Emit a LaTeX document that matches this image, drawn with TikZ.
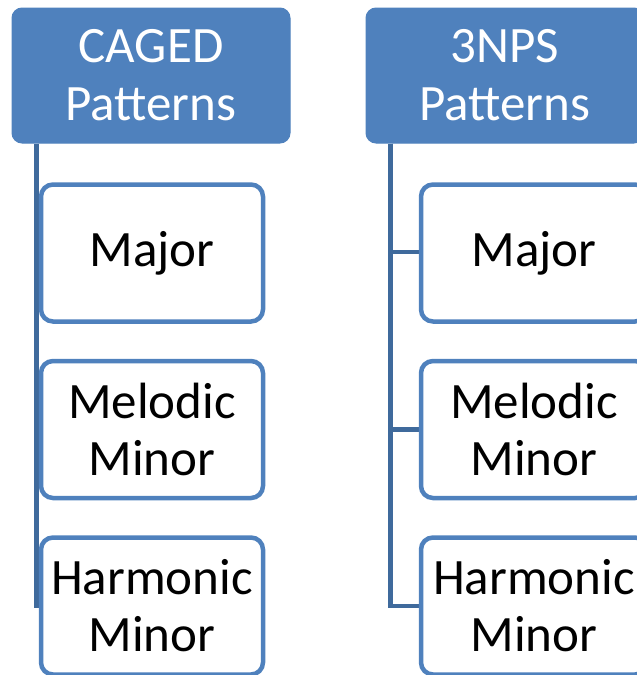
\documentclass[tikz,border=0pt]{standalone}
\usepackage{fontspec}
\setmainfont{Carlito}
\definecolor{hdr}{HTML}{4F81BD}
\definecolor{conn}{HTML}{3F6A9C}
\tikzset{
  header/.style={draw=hdr, fill=hdr, rounded corners=10pt, minimum width=278pt, minimum height=135pt,
    text=white, align=center, font=\fontsize{51}{58}\selectfont, inner sep=0pt, line width=1pt},
  child/.style={draw=hdr, fill=white, rounded corners=12pt, minimum width=222pt, minimum height=137pt,
    text=black, align=center, font=\fontsize{51}{57}\selectfont, inner sep=0pt, line width=4.5pt},
  connline/.style={draw=conn, line width=4.5pt}
}
\begin{document}
\begin{tikzpicture}[x=1pt,y=1pt]
\clip (0,0) rectangle (637,-675);
\useasboundingbox (0,0) rectangle (637,-675);
% headers
\node[header] (h1) at (151,-75.5) {CAGED\\Patterns};
\node[header] (h2) at (505,-75.5) {3NPS\\Patterns};
% connector anchor coordinates
\coordinate (t1) at ([xshift=25pt]h1.south west);
\coordinate (t2) at ([xshift=25pt]h2.south west);
% connectors drawn first (behind boxes)
\draw[connline] (t1) |- (152,-606);
\draw[connline] (t2) |- (534,-606);
\draw[connline] (t2) |- (534,-429.5);
\draw[connline] (t2) |- (534,-252);
% left children
\node[child] (l1) at (152,-253) {Major};
\node[child] (l2) at (152,-429.5) {Melodic\\Minor};
\node[child] (l3) at (152,-606) {Harmonic\\Minor};
% right children
\node[child, minimum width=226pt] (r1) at (534,-253) {Major};
\node[child, minimum width=226pt] (r2) at (534,-429.5) {Melodic\\Minor};
\node[child, minimum width=226pt] (r3) at (534,-606) {Harmonic\\Minor};
\end{tikzpicture}
\end{document}
